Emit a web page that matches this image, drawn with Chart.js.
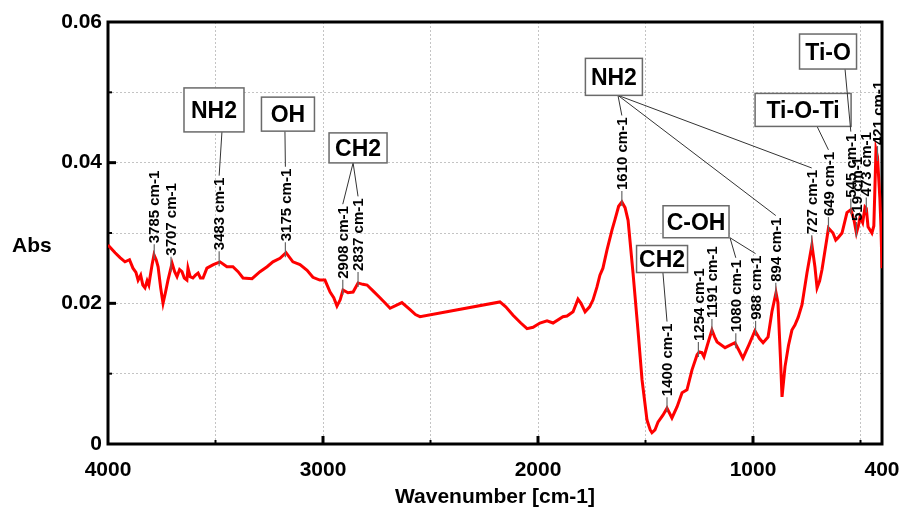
<!DOCTYPE html>
<html>
<head>
<meta charset="utf-8">
<title>Spettro FTIR</title>
<script src="https://cdn.jsdelivr.net/npm/chart.js@4.4.0/dist/chart.umd.min.js"></script>
<style>
  html, body { margin: 0; padding: 0; background: #fff; }
</style>
</head>
<body>
<canvas id="myChart" width="901" height="509"></canvas>
<script>

// DATI SPETTRO
var wavenumber = [
  4000, 3967, 3944, 3921, 3900, 3884, 3870, 3860, 3848, 3838, 3828, 3818, 3810, 3805, 3795,
  3786, 3776, 3767, 3755, 3744, 3733, 3721, 3702, 3690, 3679, 3667, 3656, 3645, 3633, 3628,
  3618, 3605, 3593, 3581, 3570, 3558, 3540, 3510, 3479, 3447, 3419, 3395, 3372, 3330, 3293,
  3260, 3233, 3200, 3172, 3140, 3107, 3074, 3047, 3015, 2991, 2967, 2950, 2935, 2920, 2907,
  2884, 2860, 2837, 2815, 2795, 2765, 2735, 2710, 2688, 2660, 2633, 2595, 2570, 2549, 2177,
  2150, 2116, 2080, 2051, 2023, 1991, 1958, 1930, 1884, 1865, 1837, 1814, 1800, 1781, 1760,
  1744, 1726, 1712, 1698, 1679, 1656, 1642, 1625, 1610, 1595, 1581, 1558, 1535, 1516, 1493,
  1478, 1470, 1456, 1442, 1419, 1400, 1377, 1353, 1330, 1307, 1284, 1260, 1250, 1238, 1228,
  1209, 1191, 1178, 1167, 1130, 1084, 1065, 1047, 1019, 991, 970, 953, 930, 912, 893,
  884, 872, 865, 851, 835, 819, 805, 790, 772, 749, 726, 712, 702, 690, 679,
  656, 649, 628, 615, 605, 586, 563, 545, 530, 519, 510, 502, 490, 479, 473,
  465, 447, 438, 428, 421, 410, 405, 400
];
var absorbance = [
  0.0283, 0.0272, 0.0265, 0.0259, 0.0262, 0.0250, 0.0244, 0.0233, 0.0240, 0.0226, 0.0222, 0.0232, 0.0226, 0.0236, 0.0255,
  0.0269, 0.0262, 0.0252, 0.0222, 0.0200, 0.0215, 0.0233, 0.0257, 0.0245, 0.0238, 0.0248, 0.0245, 0.0236, 0.0233, 0.0250,
  0.0238, 0.0236, 0.0240, 0.0243, 0.0236, 0.0236, 0.0250, 0.0255, 0.0259, 0.0252, 0.0252, 0.0245, 0.0236, 0.0235, 0.0245,
  0.0252, 0.0259, 0.0264, 0.0272, 0.0259, 0.0255, 0.0247, 0.0237, 0.0233, 0.0233, 0.0216, 0.0208, 0.0196, 0.0205, 0.0219,
  0.0215, 0.0216, 0.0229, 0.0227, 0.0226, 0.0217, 0.0208, 0.0200, 0.0193, 0.0197, 0.0201, 0.0191, 0.0184, 0.0181, 0.0202,
  0.0195, 0.0183, 0.0172, 0.0164, 0.0166, 0.0172, 0.0175, 0.0172, 0.0181, 0.0182, 0.0188, 0.0206, 0.0200, 0.0188, 0.0195,
  0.0205, 0.0223, 0.0240, 0.0250, 0.0276, 0.0304, 0.0319, 0.0338, 0.0344, 0.0336, 0.0318, 0.0243, 0.0162, 0.0091, 0.0034,
  0.0020, 0.0016, 0.0020, 0.0031, 0.0041, 0.0051, 0.0037, 0.0053, 0.0073, 0.0077, 0.0105, 0.0127, 0.0131, 0.0130, 0.0124,
  0.0144, 0.0162, 0.0152, 0.0145, 0.0137, 0.0144, 0.0133, 0.0122, 0.0141, 0.0161, 0.0150, 0.0144, 0.0152, 0.0188, 0.0215,
  0.0201, 0.0120, 0.0067, 0.0110, 0.0140, 0.0162, 0.0169, 0.0180, 0.0198, 0.0243, 0.0283, 0.0252, 0.0222, 0.0232, 0.0248,
  0.0293, 0.0307, 0.0300, 0.0290, 0.0293, 0.0300, 0.0329, 0.0333, 0.0318, 0.0300, 0.0310, 0.0323, 0.0315, 0.0337, 0.0335,
  0.0309, 0.0300, 0.0310, 0.0418, 0.0408, 0.0350, 0.0310, 0.0250
];

// picchi etichettati
var picchi = [3785, 3707, 3483, 3175, 2908, 2837, 1610, 1400, 1254, 1191, 1080, 988, 894, 727, 649, 545, 519, 473, 421];

// gruppi funzionali e picchi collegati
var gruppi = ['NH2', 'OH', 'CH2', 'NH2', 'C-OH', 'CH2', 'Ti-O-Ti', 'Ti-O'];
var gruppiPicchi = [[3483], [3175], [2908, 2837], [1610, 894, 727], [1080, 988], [1400], [649], [545]];

var xTicks = [4000, 3500, 3000, 2500, 2000, 1500, 1000, 500, 400];
var xLabels = [4000, 3000, 2000, 1000, 400];
var yTicks = [0, 0.01, 0.02, 0.03, 0.04, 0.05, 0.06];
var yLabels = [0, 0.02, 0.04, 0.06];

// posizione dei riquadri (in unita' del grafico) - solo impaginazione
var posBox = [
  { x: 3507, y: 0.0475, w: 60, h: 44, ax: 3470 },
  { x: 3163, y: 0.0469, w: 53, h: 34, ax: 3177 },
  { x: 2837, y: 0.0421, w: 58, h: 30, ax: 2860 },
  { x: 1647, y: 0.0522, w: 57, h: 37, ax: 1628 },
  { x: 1265, y: 0.0316, w: 66, h: 32, ax: 1107 },
  { x: 1423, y: 0.0263, w: 51, h: 27, ax: 1419 },
  { x: 767,  y: 0.0475, w: 96, h: 33, ax: 702 },
  { x: 651,  y: 0.0558, w: 57, h: 35, ax: 572 }
];

var FONT = '"Liberation Sans", Arial, sans-serif';
Chart.defaults.font.family = FONT;

function absAt(w){
  for (var i = 0; i < wavenumber.length - 1; i++) {
    var w0 = wavenumber[i], w1 = wavenumber[i + 1];
    if (w <= w0 && w >= w1) {
      var t = (w0 - w) / (w0 - w1);
      return absorbance[i] + t * (absorbance[i + 1] - absorbance[i]);
    }
  }
  return absorbance[absorbance.length - 1];
}

var punti = [];
for (let index = 0; index < wavenumber.length; index++) {
  punti.push({ x: wavenumber[index], y: absorbance[index] });
}

// cornice + tacche interne
var pluginCornice = {
  id: 'cornice',
  beforeDatasetsDraw: function(chart){
    var c = chart.ctx, a = chart.chartArea;
    var sx = chart.scales.x, sy = chart.scales.y;
    c.save();
    c.strokeStyle = '#000';
    c.lineWidth = 3;
    c.strokeRect(a.left, a.top, a.right - a.left, a.bottom - a.top);
    xTicks.forEach(function(v){
      if (v == 4000 || v == 400) return;
      var major = xLabels.indexOf(v) >= 0;
      var x = sx.getPixelForValue(v);
      c.lineWidth = major ? 3 : 2;
      c.beginPath();
      c.moveTo(x, a.bottom);
      c.lineTo(x, a.bottom - (major ? 8 : 4));
      c.stroke();
    });
    yTicks.forEach(function(v){
      if (v == 0 || v == 0.06) return;
      var major = yLabels.indexOf(v) >= 0;
      var y = sy.getPixelForValue(v);
      c.lineWidth = major ? 3 : 2;
      c.beginPath();
      c.moveTo(a.left, y);
      c.lineTo(a.left + (major ? 8 : 4), y);
      c.stroke();
    });
    c.restore();
  },
  afterDraw: function(chart){
    var c = chart.ctx;
    c.save();
    c.fillStyle = '#000';
    c.font = 'bold 21px ' + FONT;
    c.textBaseline = 'middle';
    c.textAlign = 'left';
    c.fillText('Abs', 12, 246);
    c.textAlign = 'center';
    c.fillText('Wavenumber [cm-1]', 495, 497);
    c.restore();
  }
};

// etichette dei picchi e riquadri
var pluginEtichette = {
  id: 'etichette',
  afterDatasetsDraw: function(chart){
    var c = chart.ctx;
    var sx = chart.scales.x, sy = chart.scales.y;
    var cime = {};
    c.save();
    c.font = 'bold 15px ' + FONT;
    for (let i = 0; i < picchi.length; i++) {
      var x = sx.getPixelForValue(picchi[i]);
      var yp = sy.getPixelForValue(absAt(picchi[i]));
      var testo = picchi[i] + ' cm-1';
      var w = c.measureText(testo).width;
      var base = yp - 11;
      c.strokeStyle = '#666';
      c.lineWidth = 1.2;
      c.beginPath();
      c.moveTo(x, yp + 4);
      c.lineTo(x, base);
      c.stroke();
      c.save();
      c.translate(x, base);
      c.rotate(-Math.PI / 2);
      c.fillStyle = '#000';
      c.textAlign = 'left';
      c.textBaseline = 'middle';
      c.fillText(testo, 1, 1);
      c.restore();
      cime[picchi[i]] = { x: x, y: base - w - 3 };
    }

    c.font = 'bold 23px ' + FONT;
    for (let j = 0; j < gruppi.length; j++) {
      var b = posBox[j];
      var cx = sx.getPixelForValue(b.x), cy = sy.getPixelForValue(b.y);
      var ax = sx.getPixelForValue(b.ax), ay = cy + b.h / 2;
      // linee di collegamento
      c.strokeStyle = '#333';
      c.lineWidth = 1;
      gruppiPicchi[j].forEach(function(p){
        var t = cime[p];
        c.beginPath();
        c.moveTo(ax, ay);
        c.lineTo(t.x, t.y);
        c.stroke();
      });
      c.fillStyle = '#fff';
      c.fillRect(cx - b.w / 2, cy - b.h / 2, b.w, b.h);
      c.strokeStyle = '#6a6a6a';
      c.lineWidth = 1.5;
      c.strokeRect(cx - b.w / 2, cy - b.h / 2, b.w, b.h);
      c.fillStyle = '#000';
      c.textAlign = 'center';
      c.textBaseline = 'middle';
      c.fillText(gruppi[j], cx, cy + 2);
    }
    c.restore();
  }
};

var ctx = document.getElementById('myChart').getContext('2d');
var myChart = new Chart(ctx, {
  type: 'line',
  data: {
    datasets: [{
      label: 'Abs',
      data: punti,
      borderColor: '#ff0000',
      borderWidth: 3,
      pointRadius: 0,
      tension: 0,
      fill: false
    }]
  },
  options: {
    responsive: false,
    animation: false,
    devicePixelRatio: 1,
    layout: { padding: { top: 22, right: 19, bottom: 0, left: 0 } },
    plugins: {
      legend: { display: false },
      tooltip: { enabled: false }
    },
    scales: {
      x: {
        type: 'linear',
        reverse: true,
        min: 400,
        max: 4000,
        afterBuildTicks: function(scale){
          scale.ticks = xTicks.map(function(v){ return { value: v }; });
        },
        afterFit: function(scale){
          scale.height = 65;
          scale.paddingLeft = 0;
          scale.paddingRight = 0;
        },
        ticks: {
          autoSkip: false,
          maxRotation: 0,
          padding: 14,
          color: '#000',
          font: { size: 21, weight: 'bold' },
          callback: function(v){ return xLabels.indexOf(v) >= 0 ? String(v) : ''; }
        },
        grid: { color: '#c4c4c4', lineWidth: 1, drawTicks: false },
        border: { display: false, dash: [2, 2] }
      },
      y: {
        min: 0,
        max: 0.06,
        afterBuildTicks: function(scale){
          scale.ticks = yTicks.map(function(v){ return { value: v }; });
        },
        afterFit: function(scale){
          scale.width = 108;
          scale.paddingTop = 0;
          scale.paddingBottom = 0;
        },
        ticks: {
          padding: 6,
          color: '#000',
          font: { size: 21, weight: 'bold' },
          callback: function(v){ return yLabels.indexOf(v) >= 0 ? String(v) : ''; }
        },
        grid: { color: '#c4c4c4', lineWidth: 1, drawTicks: false },
        border: { display: false, dash: [2, 2] }
      }
    }
  },
  plugins: [pluginCornice, pluginEtichette]
});

</script>
</body>
</html>
